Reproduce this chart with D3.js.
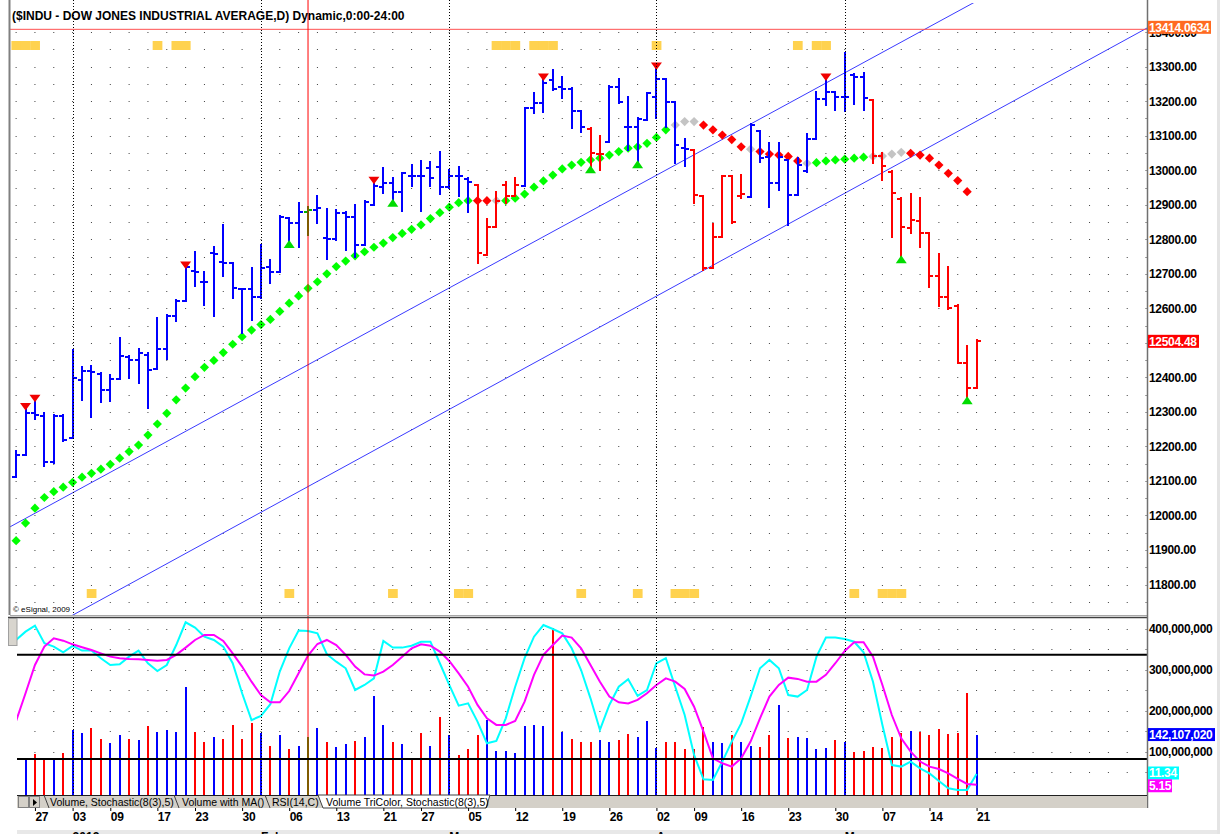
<!DOCTYPE html>
<html>
<head>
<meta charset="utf-8">
<script src="https://cdn.jsdelivr.net/npm/d3@7"></script>
<style>
  body { margin: 0; background: #fff; }
  svg { display: block; font-family: "Liberation Sans", Arial, sans-serif; }
</style>
</head>
<body>
<div id="chart"></div>
<script>
// Bars are indexed by trading day: -2 = Dec 22 2011 ... 100 = May 21 2012
var firstIdx = -2;

var opens  = [12110,12174,12296,12288,12154,12288,12224,12393,12419,12410,12362,12395,12460,12451,12465,12424,12481,12579,12622,12709,12677,12759,12735,12731,12655,12655,12632,12721,12706,12861,12846,12880,12885,12803,12800,12875,12864,12784,12900,12951,12964,12938,12982,12982,13006,13008,12951,12982,12974,12957,12755,12837,12957,12924,12953,13179,13196,13262,13242,13234,13172,13119,13047,13083,13242,13126,13126,13146,13211,13263,13199,13064,13058,12926,12716,12808,12984,12924,12922,13115,13037,12964,13030,12927,12999,13090,13206,13228,13213,13276,13271,13204,13040,12996,12916,12832,12854,12819,12694,12632,12606,12443,12369];
var highs  = [12187,12311,12335,12298,12291,12290,12478,12431,12434,12414,12407,12513,12462,12481,12470,12573,12581,12624,12721,12764,12706,12779,12842,12732,12656,12718,12784,12740,12868,12861,12906,12893,12924,12888,12885,12880,12900,12911,12967,13006,12977,12993,13015,13027,13023,13054,13001,13010,12979,12957,12858,12938,12967,12977,13179,13223,13266,13290,13269,13237,13172,13121,13099,13244,13263,13213,13150,13223,13298,13263,13199,13090,13059,12926,12845,12984,12984,12986,13134,13115,13078,13080,13030,13035,13105,13228,13266,13228,13339,13279,13283,13204,13051,12999,12919,12931,12919,12819,12758,12721,12610,12491,12507];
var lows   = [12110,12174,12279,12142,12153,12217,12224,12335,12284,12330,12332,12395,12397,12383,12311,12424,12453,12563,12620,12666,12610,12578,12694,12629,12528,12565,12629,12673,12706,12789,12779,12813,12846,12742,12798,12769,12750,12784,12900,12933,12909,12882,12953,12882,12953,12930,12948,12924,12880,12732,12755,12837,12906,12924,12953,13165,13170,13232,13208,13122,13112,13006,13001,13083,13196,13059,13020,13146,13150,13126,13020,13011,12904,12711,12716,12808,12846,12920,12922,13025,12895,12943,12842,12927,12996,13090,13189,13175,13173,13192,13175,13020,12972,12808,12745,12819,12779,12661,12607,12597,12441,12337,12369];
var closes = [12174,12296,12291,12154,12288,12219,12397,12419,12417,12362,12395,12462,12449,12470,12422,12481,12579,12622,12719,12706,12675,12757,12731,12660,12655,12632,12716,12706,12864,12846,12880,12885,12890,12800,12875,12864,12784,12909,12953,12964,12938,12991,12984,12982,12977,12951,12982,12982,12965,12761,12837,12910,12924,12957,13179,13196,13254,13234,13234,13172,13126,13049,13047,13242,13199,13126,13148,13223,13263,13199,13073,13061,12928,12716,12808,12984,12851,12930,13131,13035,12964,13039,12927,13015,13090,13206,13228,13213,13213,13271,13208,13040,13011,12933,12835,12856,12819,12694,12632,12600,12441,12369,12504.48];
// bar colour runs from index -2 (b = blue, r = red, g = green)
var barColorRuns = [["b",31],["g",1],["b",17],["r",5],["b",7],["r",2],["b",9],["r",6],["b",13],["r",12]];

// coloured moving average diamonds, index -2 .. 99
var maValues = [11927,11978,12021,12052,12069,12082,12096,12111,12122,12134,12148,12166,12185,12204,12233,12265,12296,12335,12369,12402,12429,12449,12472,12496,12518,12537,12553,12568,12591,12615,12636,12658,12677,12700,12721,12737,12752,12764,12777,12789,12805,12817,12829,12842,12860,12877,12893,12906,12912,12912,12912,12912,12912,12919,12931,12951,12969,12986,13004,13015,13023,13030,13035,13044,13054,13064,13068,13078,13095,13117,13131,13141,13141,13131,13117,13102,13089,13068,13061,13054,13047,13044,13040,13027,13020,13022,13027,13030,13032,13035,13038,13040,13041,13047,13052,13049,13044,13035,13015,12991,12970,12938];
// g = green, r = red, s = grey
var maColorRuns = [["g",49],["r",2],["s",1],["g",18],["s",3],["r",5],["s",1],["r",5],["s",1],["g",6],["s",4],["r",7]];

// signal markers (bar indices)
var sellSignals = [-1, 0, 16, 36, 54, 66, 84];
var buySignals = [27, 38, 59, 64, 92, 99];
var topMarks = [-2, -1, 0, 13, 15, 16, 49, 50, 51, 53, 54, 55, 66, 81, 83, 84];
var bottomMarks = [6, 27, 38, 45, 46, 58, 64, 68, 69, 70, 87, 90, 91, 92];

// trend channel, each line given by two [index, price] anchors
var channelLines = [
  [[-2.65, 11967], [74.86, 13117]],
  [[4.4, 11717], [118.1, 13412]]
];
var redLevel = 13414.0634;
var redDayIdx = 29;

// volume (millions), index -1 .. 100
var volumes = [80,94,82,82,98,154,146,158,131,121,
  142,131,128,164,149,154,149,258,149,124,
  137,131,166,131,170,145,115,142,108,115,
  137,158,123,112,119,127,135,237,166,123,
  119,86,145,115,184,142,92,108,142,178,
  102,102,98,164,165,164,402,149,131,124,
  123,128,124,129,143,135,174,109,124,124,
  108,106,160,124,121,141,123,115,112,141,
  215,133,135,134,108,110,128,124,100,102,
  112,109,137,147,151,149,142,155,143,146,
  244,142.10702];
var volColors = ["b","r","r","b","r","b","b","r","r","b",
  "b","r","b","r","b","b","b","b","r","r",
  "b","r","r","r","r","b","r","b","r","b",
  "g","b","r","b","b","r","b","b","b","r",
  "b","r","r","b","r","b","r","r","r","b",
  "b","b","b","b","b","b","r","b","r","r",
  "r","b","b","r","r","b","b","b","r","r",
  "r","r","r","b","b","r","b","b","r","r",
  "b","r","b","b","b","b","r","b","r","r",
  "r","r","r","r","b","r","r","r","r","r",
  "r","b"];

// stochastic %K and %D, index -2 .. 100
var stochK = [88.5,93.3,96.8,86.6,84.7,81.4,85.1,82.4,82.4,78,74.1,74.5,78.9,82.4,75.1,70.6,74.1,85.6,98.7,95.6,90.4,88.5,84.7,75.1,57.8,42.4,44.8,51.5,70.3,83.7,93.9,93.7,92.3,80.3,76,72.2,59.7,62.6,66.4,87.9,84.1,84.1,85.2,87.5,87.5,75.1,62.6,50.7,52,41.5,29,30.4,43.4,61.6,78,90.4,97.1,94.8,92.3,83.7,71.2,54.9,36.7,51.1,61.6,65.9,56.3,59.7,75.1,78,61.6,45.3,22.3,8.3,7.9,18.5,30,40.5,55.9,72.2,77,72.2,56.8,55.9,59.7,78.9,89.9,89.9,89.1,87.5,81.4,64.5,39.6,16.5,15.6,18.5,14.6,11.7,7.3,3.1,2.2,2.2,11.34];
var stochD = [41.9,57.8,74.1,84.7,89.5,88.1,86,84.3,82.7,80.8,78.9,78,77.6,77.4,77,76.6,77,79.9,84.1,88.5,91.4,91.4,87.9,80.8,73.2,64.5,56.8,52.6,52.6,59.1,69.3,79.5,86.2,88.5,85.6,79.9,73.2,68.7,68,70.3,74.1,78.9,83.7,86,85.2,81.8,76.4,69.3,61.6,51.1,43.4,39.6,39.6,41.9,53,68.4,79.9,85.6,91,89.9,83.7,74.1,64.5,55.9,52.6,52,54,57.8,62.6,66.4,64.5,60.3,50.1,35.7,20.4,17.5,15.6,20.4,30,43.4,55.9,62.6,66.8,66.1,64.5,64.5,68.4,75.1,82.2,87.2,87.2,78.9,62.6,45.3,31.9,24.2,18.5,15.6,14.2,11.7,8.5,5.6,5.15];

// date axis
var dateTickIdx = [0, 4, 8, 13, 17, 22, 27, 32, 37, 41, 46, 51, 56, 61, 66, 70, 75, 80, 85, 90, 95, 100];
var dateTickLabels = ["27","03","09","17","23","30","06","13","21","27","05","12","19","26","02","09","16","23","30","07","14","21"];
var monthIdx = [4, 24, 44, 66, 86];
var monthLabels = ["2012", "Feb", "Mar", "Apr", "May"];

var priceTicks = d3.range(11800, 13401, 100);
var volumeTicks = [100, 200, 300, 400];

var titleText = "($INDU - DOW JONES INDUSTRIAL AVERAGE,D) Dynamic,0:00-24:00";
var tabLabels = ["Volume, Stochastic(8(3),5)", "Volume with MA()", "RSI(14,C)", "Volume TriColor, Stochastic(8(3),5)"];

// expand run-length colour codes
function expandRuns(runs) {
  var out = [];
  runs.forEach(function(r) { for (var k = 0; k < r[1]; k++) out.push(r[0]); });
  return out;
}
var barColors = expandRuns(barColorRuns);
var maColors = expandRuns(maColorRuns);

// Define SVG
var svgWidth = 1220;
var svgHeight = 834;

// panel geometry
var plotLeft = 10, plotRight = 1147;
var mainTop = 3, mainBottom = 615;
var lowLeft = 17, lowTop = 617, lowBottom = 795;
var tabBottom = 808;

var colorMap = { b: "#0000ff", r: "#ff0000", g: "#00b400", s: "#c0c0c0" };
var maColorMap = { g: "#00ff00", r: "#ff0000", s: "#c4c4c4" };

var svg = d3.select("#chart")
  .append("svg")
  .attr("width", svgWidth)
  .attr("height", svgHeight);

svg.append("rect").attr("width", svgWidth).attr("height", svgHeight).attr("fill", "#fff");

// scales
var x = d3.scaleLinear().domain([-2.65, 118.1]).range([plotLeft, plotRight]);
var y = d3.scaleLinear().domain([11800, 13300]).range([584.5, 66.7]);
var yVol = d3.scaleLinear().domain([0, 400]).range([793, 628.5]);
var yStoch = d3.scaleLinear().domain([0, 100]).range([793.7, 620]);

var idxOf = function(i) { return i + firstIdx; };
var barW = x(1) - x(0);

// clip paths
var defs = svg.append("defs");
defs.append("clipPath").attr("id", "mainClip").append("rect")
  .attr("x", plotLeft).attr("y", mainTop).attr("width", plotRight - plotLeft).attr("height", mainBottom - mainTop);
defs.append("clipPath").attr("id", "lowClip").append("rect")
  .attr("x", lowLeft).attr("y", lowTop + 1).attr("width", plotRight - lowLeft).attr("height", lowBottom - lowTop - 1);

var mainG = svg.append("g").attr("clip-path", "url(#mainClip)");
var lowG = svg.append("g").attr("clip-path", "url(#lowClip)");

// ---------- grid dots (one every second bar) ----------
var priceRows = d3.range(11750, 13401, 50);
mainG.selectAll("line.dotrow").data(priceRows).enter().append("line")
  .attr("x1", x(-2) - 0.5).attr("x2", plotRight)
  .attr("y1", d => Math.round(y(d)) + 0.5).attr("y2", d => Math.round(y(d)) + 0.5)
  .attr("stroke", "#404040").attr("stroke-width", 1)
  .attr("stroke-dasharray", "1 " + (2 * barW - 1));

var volRows = d3.range(50, 401, 50);
lowG.selectAll("line.dotrow").data(volRows).enter().append("line")
  .attr("x1", x(-2) - 0.5).attr("x2", plotRight)
  .attr("y1", d => Math.round(yVol(d)) + 0.5).attr("y2", d => Math.round(yVol(d)) + 0.5)
  .attr("stroke", "#404040").attr("stroke-width", 1)
  .attr("stroke-dasharray", "1 " + (2 * barW - 1));

// month separators (dotted, full height)
svg.selectAll("line.month").data(monthIdx).enter().append("line")
  .attr("x1", d => Math.round(x(d)) + 0.5).attr("x2", d => Math.round(x(d)) + 0.5)
  .attr("y1", 0).attr("y2", lowBottom)
  .attr("stroke", "#000").attr("stroke-width", 1)
  .attr("stroke-dasharray", "1 2");

// ---------- orange marker rows ----------
mainG.selectAll("rect.topmark").data(topMarks).enter().append("rect")
  .attr("x", d => x(d) - barW / 2).attr("y", 41)
  .attr("width", barW + 0.3).attr("height", 9)
  .attr("fill", "#ffd24f");
mainG.selectAll("rect.botmark").data(bottomMarks).enter().append("rect")
  .attr("x", d => x(d) - barW / 2).attr("y", 589)
  .attr("width", barW + 0.3).attr("height", 9)
  .attr("fill", "#ffd24f");

// ---------- trend channel ----------
channelLines.forEach(function(pts) {
  var slope = (pts[1][1] - pts[0][1]) / (pts[1][0] - pts[0][0]);
  var i0 = x.domain()[0], i1 = x.domain()[1];
  mainG.append("line")
    .attr("x1", x(i0)).attr("y1", y(pts[0][1] + slope * (i0 - pts[0][0])))
    .attr("x2", x(i1)).attr("y2", y(pts[0][1] + slope * (i1 - pts[0][0])))
    .attr("stroke", "#3a3aff").attr("stroke-width", 1);
});

// red horizontal level
svg.append("line")
  .attr("x1", plotLeft).attr("x2", plotRight)
  .attr("y1", y(redLevel) + 2).attr("y2", y(redLevel) + 2)
  .attr("stroke", "#ff5050").attr("stroke-width", 1);

// red vertical day marker
svg.append("line")
  .attr("x1", x(redDayIdx)).attr("x2", x(redDayIdx))
  .attr("y1", 0).attr("y2", lowBottom)
  .attr("stroke", "#ff0000").attr("stroke-width", 1);

// ---------- MA diamonds ----------
mainG.selectAll("path.ma").data(maValues).enter().append("path")
  .attr("d", function(d, i) {
    var cx = x(idxOf(i)), cy = y(d), r = 4.6;
    return "M" + cx + "," + (cy - r) + "L" + (cx + r) + "," + cy + "L" + cx + "," + (cy + r) + "L" + (cx - r) + "," + cy + "Z";
  })
  .attr("fill", (d, i) => maColorMap[maColors[i]]);

// ---------- OHLC bars ----------
var bars = mainG.selectAll("g.bar").data(opens).enter().append("g")
  .attr("stroke", (d, i) => colorMap[barColors[i]])
  .attr("stroke-width", 2)
  .attr("shape-rendering", "crispEdges");

bars.append("line")
  .attr("x1", (d, i) => x(idxOf(i))).attr("x2", (d, i) => x(idxOf(i)))
  .attr("y1", (d, i) => y(highs[i]) - 1).attr("y2", (d, i) => y(lows[i]) + 1);
bars.append("line")
  .attr("x1", (d, i) => x(idxOf(i)) - 4).attr("x2", (d, i) => x(idxOf(i)))
  .attr("y1", d => y(d)).attr("y2", d => y(d));
bars.append("line")
  .attr("x1", (d, i) => x(idxOf(i))).attr("x2", (d, i) => x(idxOf(i)) + 4)
  .attr("y1", (d, i) => y(closes[i])).attr("y2", (d, i) => y(closes[i]));

// ---------- signal triangles ----------
mainG.selectAll("path.sell").data(sellSignals).enter().append("path")
  .attr("d", function(d) {
    var cx = x(d), cy = y(highs[d - firstIdx]);
    return "M" + (cx - 5.5) + "," + (cy - 5) + "L" + (cx + 5.5) + "," + (cy - 5) + "L" + cx + "," + (cy + 2.5) + "Z";
  })
  .attr("fill", "#f00000");
mainG.selectAll("path.buy").data(buySignals).enter().append("path")
  .attr("d", function(d) {
    var cx = x(d), cy = y(lows[d - firstIdx]);
    return "M" + cx + "," + (cy - 3) + "L" + (cx + 5.5) + "," + (cy + 5) + "L" + (cx - 5.5) + "," + (cy + 5) + "Z";
  })
  .attr("fill", "#00dc00");

// ---------- lower panel ----------
lowG.selectAll("line.vol").data(volumes).enter().append("line")
  .attr("x1", (d, i) => x(i - 1)).attr("x2", (d, i) => x(i - 1))
  .attr("y1", lowBottom).attr("y2", d => yVol(d))
  .attr("stroke", (d, i) => colorMap[volColors[i]])
  .attr("stroke-width", 2)
  .attr("shape-rendering", "crispEdges");

[80, 20].forEach(function(lv) {
  svg.append("line")
    .attr("x1", lowLeft).attr("x2", plotRight)
    .attr("y1", yStoch(lv)).attr("y2", yStoch(lv))
    .attr("stroke", "#000").attr("stroke-width", 2);
});

var stochLine = d3.line().x((d, i) => x(idxOf(i))).y(d => yStoch(d));
lowG.append("path").datum(stochK).attr("d", stochLine)
  .attr("fill", "none").attr("stroke", "#00ffff").attr("stroke-width", 2);
lowG.append("path").datum(stochD).attr("d", stochLine)
  .attr("fill", "none").attr("stroke", "#ff00ff").attr("stroke-width", 2);

// ---------- frames ----------
svg.append("line").attr("x1", 9.5).attr("x2", 9.5).attr("y1", 0).attr("y2", mainBottom)
  .attr("stroke", "#808080").attr("stroke-width", 2);
svg.append("line").attr("x1", plotLeft).attr("x2", plotRight).attr("y1", mainBottom + 0.5).attr("y2", mainBottom + 0.5)
  .attr("stroke", "#a8a8a8").attr("stroke-width", 1);
svg.append("line").attr("x1", 8).attr("x2", plotRight).attr("y1", lowTop + 0.5).attr("y2", lowTop + 0.5)
  .attr("stroke", "#404040").attr("stroke-width", 1.5);
svg.append("rect").attr("x", 8.5).attr("y", lowTop + 1.5).attr("width", 8.5).attr("height", 27)
  .attr("fill", "#d8d5ce").attr("stroke", "#a0a0a0");
svg.append("line").attr("x1", plotRight + 0.5).attr("x2", plotRight + 0.5).attr("y1", 0).attr("y2", tabBottom)
  .attr("stroke", "#707070").attr("stroke-width", 1.5);
svg.append("rect").attr("x", 1217).attr("y", 0).attr("width", 3).attr("height", svgHeight).attr("fill", "#e4e4e4");

// ---------- tab bar ----------
svg.append("rect").attr("x", lowLeft).attr("y", lowBottom).attr("width", plotRight - lowLeft).attr("height", tabBottom - lowBottom)
  .attr("fill", "#d4d0c8");
svg.append("line").attr("x1", lowLeft).attr("x2", plotRight).attr("y1", lowBottom + 0.5).attr("y2", lowBottom + 0.5)
  .attr("stroke", "#202020").attr("stroke-width", 1);
// scroll buttons
[18, 29].forEach(function(bx, k) {
  svg.append("rect").attr("x", bx + 0.5).attr("y", lowBottom + 1.5).attr("width", 10).attr("height", 11)
    .attr("fill", "#d4d0c8").attr("stroke", "#808080");
  if (k === 1) {
    svg.append("path").attr("d", "M" + (bx + 4) + "," + (lowBottom + 4) + "L" + (bx + 8) + "," + (lowBottom + 7.5) + "L" + (bx + 4) + "," + (lowBottom + 11) + "Z")
      .attr("fill", "#000");
  }
});
var tabEdges = [44, 174, 265, 318, 490];
var tabTextX = [50, 182, 272, 326];
// selected (last) tab
svg.append("path")
  .attr("d", "M" + tabEdges[3] + "," + lowBottom + "L" + (tabEdges[3] + 5) + "," + tabBottom + "L" + (tabEdges[4] - 4) + "," + tabBottom + "L" + tabEdges[4] + "," + lowBottom + "Z")
  .attr("fill", "#fff").attr("stroke", "#404040").attr("stroke-width", 1);
tabEdges.slice(0, 3).forEach(function(ex) {
  svg.append("line").attr("x1", ex).attr("y1", lowBottom).attr("x2", ex + 5).attr("y2", tabBottom)
    .attr("stroke", "#404040").attr("stroke-width", 1);
});
svg.selectAll("text.tab").data(tabLabels).enter().append("text")
  .attr("x", (d, i) => tabTextX[i]).attr("y", tabBottom - 2.5)
  .attr("font-size", "10.5px").attr("fill", "#000")
  .text(d => d);

// bottom strip
svg.append("rect").attr("x", lowLeft).attr("y", 830).attr("width", 1200).attr("height", 4).attr("fill", "#e8e8e8");

// ---------- axes ----------
var priceAxis = d3.axisRight(y).tickValues(priceTicks).tickFormat(d3.format(".2f")).tickSize(0).tickPadding(2);
var pAxisG = svg.append("g").attr("transform", `translate(${plotRight}, 0)`).call(priceAxis);
pAxisG.select(".domain").remove();
pAxisG.selectAll("text").attr("font-size", "12px").attr("font-weight", "bold").attr("fill", "#000")
  .attr("font-family", "Liberation Sans, Arial, sans-serif").attr("letter-spacing", "-0.3px");

var volAxis = d3.axisRight(yVol).tickValues(volumeTicks).tickFormat(d => d3.format(",")(d * 1e6)).tickSize(0).tickPadding(2);
var vAxisG = svg.append("g").attr("transform", `translate(${plotRight}, 0)`).call(volAxis);
vAxisG.select(".domain").remove();
vAxisG.selectAll("text").attr("font-size", "12px").attr("font-weight", "bold").attr("fill", "#000")
  .attr("font-family", "Liberation Sans, Arial, sans-serif").attr("letter-spacing", "-0.3px");

// value flags on the right axis
function flag(yPos, label, fill, w) {
  var g = svg.append("g");
  g.append("rect").attr("x", plotRight + 1).attr("y", yPos - 6.5).attr("width", w).attr("height", 13).attr("fill", fill);
  g.append("text").attr("x", plotRight + 2).attr("y", yPos).attr("dy", "0.35em")
    .attr("font-size", "12px").attr("font-weight", "bold").attr("fill", "#fff").attr("letter-spacing", "-0.3px")
    .text(label);
}
flag(y(redLevel), d3.format(".4f")(redLevel), "#ff6a22", 63);
flag(y(closes[closes.length - 1]), d3.format(".2f")(closes[closes.length - 1]), "#ff0000", 51);
flag(yVol(volumes[volumes.length - 1]), d3.format(",")(Math.round(volumes[volumes.length - 1] * 1e6)), "#0000ff", 67);
flag(yStoch(stochK[stochK.length - 1]) - 1, d3.format(".2f")(stochK[stochK.length - 1]), "#00ffff", 31);
flag(yStoch(stochD[stochD.length - 1]) + 1, d3.format(".2f")(stochD[stochD.length - 1]), "#ff00ff", 24);

// date axis
var dateAxis = d3.axisBottom(x).tickValues(dateTickIdx).tickFormat((d, i) => dateTickLabels[i]).tickSize(3).tickPadding(1);
var dAxisG = svg.append("g").attr("transform", `translate(0, ${tabBottom})`).call(dateAxis);
dAxisG.select(".domain").remove();
dAxisG.selectAll("line").attr("stroke", "#000");
dAxisG.selectAll("text").attr("text-anchor", "start").attr("font-size", "12px").attr("font-weight", "bold")
  .attr("fill", "#000").attr("font-family", "Liberation Sans, Arial, sans-serif").attr("letter-spacing", "-0.3px");

svg.selectAll("text.month").data(monthLabels).enter().append("text")
  .attr("x", (d, i) => x(monthIdx[i])).attr("y", 841)
  .attr("font-size", "12px").attr("font-weight", "bold").attr("fill", "#000")
  .text(d => d);

// ---------- title & credit ----------
svg.append("text").attr("x", 12).attr("y", 20)
  .attr("font-size", "12px").attr("font-weight", "bold").attr("fill", "#000")
  .text(titleText);
svg.append("text").attr("x", 13).attr("y", 612)
  .attr("font-size", "8px").attr("fill", "#000")
  .text("\u00a9 eSignal, 2009");
</script>
</body>
</html>
